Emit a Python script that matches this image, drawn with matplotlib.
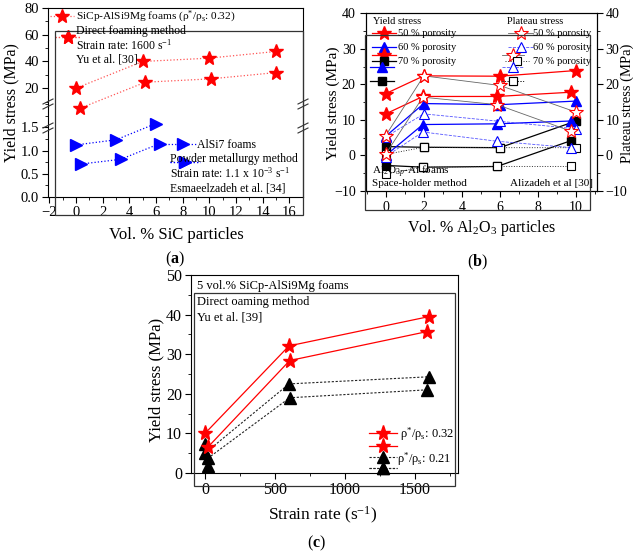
import matplotlib
matplotlib.use('Agg')
import matplotlib.pyplot as plt
from matplotlib.lines import Line2D
from matplotlib.patches import Rectangle
from matplotlib.ticker import MultipleLocator, FormatStrFormatter

plt.rcParams['font.family'] = ['Liberation Serif', 'DejaVu Serif']
plt.rcParams['mathtext.fontset'] = 'custom'
plt.rcParams['mathtext.rm'] = 'Liberation Serif'
plt.rcParams['mathtext.it'] = 'Liberation Serif:italic'
plt.rcParams['mathtext.bf'] = 'Liberation Serif:bold'

# ---------------- data: panel (a) ----------------
a_sic_x_A = [0, 5, 10, 15]
a_sic_y_A = [20.0, 40.0, 42.5, 47.5]
a_sic_x_B = [0.3, 5.2, 10.1, 15.0]
a_sic_y_B = [5.0, 24.5, 27.0, 31.7]
a_alsi_x_A = [0, 3, 6]
a_alsi_y_A = [1.12, 1.23, 1.58]
a_alsi_x_B = [0.4, 3.35, 6.3]
a_alsi_y_B = [0.71, 0.81, 1.15]

# ---------------- data: panel (b) ----------------
b_x_A = [0, 2, 6, 10]
b_x_B = [0, 1.95, 5.85, 9.75]
ys50_A = [17.4, 22.4, 22.3, 23.9]
ys50_B = [11.7, 16.6, 16.6, 17.8]
ps50_A = [5.6, 22.4, 19.7, 12.2]
ps50_B = [0.4, 16.4, 14.3, 6.8]
ys60_A = [5.4, 14.6, 14.3, 15.3]
ys60_B = [0.0, 8.7, 8.9, 9.7]
ps60_A = [5.2, 11.7, 9.6, 7.5]
ps60_B = [-0.3, 6.6, 4.0, 2.2]
ys70_A = [2.5, 2.3, 2.2, 9.7]
ys70_B = [-2.8, -3.3, -3.1, 4.2]
ps70_A = [0.3, 2.3, 2.2, 2.2]
ps70_B = [-5.2, -3.3, -3.1, -3.1]

# ---------------- data: panel (c) ----------------
c_x_A = [0, 600, 1600]
c_x_B = [20, 605, 1585]
c_star_A = [10.0, 32.1, 39.5]
c_star_B = [6.5, 28.4, 35.7]
c_tri_A = [5.0, 22.5, 24.3]
c_tri_B = [3.7, 19.0, 21.0]
c_tri_extra_x = [0, 20]
c_tri_extra_y = [7.3, 1.8]

W, H = 633, 558
fig = plt.figure(figsize=(6.33, 5.58), dpi=100)


def fx(x):
    return x / W


def fy(y):
    return 1 - y / H


def rect(x0, y0, x1, y1):
    return [fx(x0), fy(y1), (x1 - x0) / W, (y1 - y0) / H]


def handle(ax, x0, x1, y, fs=8, **kw):
    h = Line2D([], [], **kw)
    L = ax.legend([h], [''], loc='center left', bbox_to_anchor=(fx(x0), fy(y)),
                  bbox_transform=fig.transFigure, frameon=False, borderpad=0,
                  borderaxespad=0, handlelength=(x1 - x0) / (fs * 100 / 72),
                  handletextpad=0, fontsize=fs, numpoints=1)
    ax.add_artist(L)


def txt(x, y, s, fs=8.5, ha='left', **kw):
    fig.text(fx(x), fy(y), s, fontsize=fs, ha=ha, va='center', **kw)


def frame(x0, y0, x1, y1, lw=0.9):
    fig.add_artist(Rectangle((fx(x0), fy(y1)), (x1 - x0) / W, (y1 - y0) / H,
                             transform=fig.transFigure, fill=False, lw=lw,
                             ec='#333333'))


def brk(x, y):
    for dy in (-2.5, 2.5):
        fig.add_artist(Line2D([fx(x - 5), fx(x + 5)], [fy(y + dy + 2.5), fy(y + dy - 2.5)],
                              transform=fig.transFigure, lw=0.8, color='#333333'))


TFS = 10.5
RED = '#ff0000'
BLUE = '#0000ff'

# ================= panel (a) =================
axU = fig.add_axes(rect(48, 8, 303, 104))
axL = fig.add_axes(rect(48, 104, 303, 197))
for ax in (axU, axL):
    ax.set_xlim(-2.1, 17.03)
    ax.tick_params(direction='out', labelsize=TFS, length=4, width=0.8, right=False, top=False, pad=2.5)
    ax.tick_params(which='minor', direction='out', length=2, width=0.6)
    ax.patch.set_alpha(0)
axU.set_ylim(8.2, 80)
axU.yaxis.set_major_locator(MultipleLocator(20))
axU.yaxis.set_minor_locator(MultipleLocator(10))
axU.spines['bottom'].set_visible(False)
axU.tick_params(which='both', bottom=False, labelbottom=False)
axL.set_ylim(0, 2.0)
axL.set_yticks([0, 0.5, 1.0, 1.5])
axL.yaxis.set_minor_locator(MultipleLocator(0.25))
axL.yaxis.set_major_formatter(FormatStrFormatter('%.1f'))
axL.xaxis.set_major_locator(MultipleLocator(2))
axL.xaxis.set_minor_locator(MultipleLocator(1))
axL.spines['top'].set_visible(False)

axU.plot(a_sic_x_A, a_sic_y_A, ls=':', color='#ff5555', lw=0.9, marker='*', ms=10,
         mfc=RED, mec=RED, clip_on=False)
axU.plot(a_sic_x_B, a_sic_y_B, ls=':', color='#ff5555', lw=0.9, marker='*', ms=10,
         mfc=RED, mec=RED, clip_on=False)
axL.plot(a_alsi_x_A, a_alsi_y_A, ls=':', color=BLUE, lw=0.9, marker='>', ms=8,
         mfc=BLUE, mec=BLUE, clip_on=False)
axL.plot(a_alsi_x_B, a_alsi_y_B, ls=':', color=BLUE, lw=0.9, marker='>', ms=8,
         mfc=BLUE, mec=BLUE, clip_on=False)

frame(55, 31, 303, 215)
for yy in (104, 128):
    brk(48, yy)
    brk(303, yy)

handle(axU, 50, 74, 17, ls=':', color='#ff5555', lw=0.9, marker='*', ms=10, mfc=RED, mec=RED)
handle(axU, 55, 81, 38, ls=':', color='#ff5555', lw=0.9, marker='*', ms=10, mfc=RED, mec=RED)
txt(76, 17, 'SiCp-AlSi9Mg foams (ρ$^{*}$/ρ$_{\\mathrm{s}}$: 0.32)', fs=8.2)
txt(76, 31, 'Direct foaming method')
txt(76, 45, 'Strain rate: 1600 s$^{-1}$')
txt(76, 60, 'Yu et al. [30]')

handle(axL, 168, 197, 145, ls=':', color=BLUE, lw=0.9, marker='>', ms=8, mfc=BLUE, mec=BLUE)
handle(axL, 170, 200, 163, ls=':', color=BLUE, lw=0.9, marker='>', ms=8, mfc=BLUE, mec=BLUE)
txt(197, 145, 'AlSi7 foams')
txt(170, 159, 'Powder metallurgy method')
txt(170, 173, 'Strain rate: 1.1 x 10$^{-3}$ s$^{-1}$')
txt(170, 189, 'Esmaeelzadeh et al. [34]')

fig.text(fx(11), fy(103), 'Yield stress (MPa)', rotation=90, fontsize=11.5, ha='center', va='center')
txt(176, 235, 'Vol. % SiC particles', fs=12, ha='center')
txt(175, 259, '($\\mathbf{a}$)', fs=11.5, ha='center')

# ================= panel (b) =================
BFS = 10
axB = fig.add_axes(rect(366, 13.3, 597, 191))
axB.set_xlim(-1.035, 11.1)
axB.set_ylim(-10, 40)
axB.xaxis.set_major_locator(MultipleLocator(2))
axB.xaxis.set_minor_locator(MultipleLocator(1))
axB.yaxis.set_major_locator(MultipleLocator(10))
axB.yaxis.set_minor_locator(MultipleLocator(5))
axB.tick_params(direction='out', labelsize=BFS, length=4, width=0.8, top=False, right=False)
axB.tick_params(which='minor', direction='out', length=2, width=0.6)
axB2 = axB.twinx()
axB2.set_ylim(-10, 40)
axB2.yaxis.set_major_locator(MultipleLocator(10))
axB2.yaxis.set_minor_locator(MultipleLocator(5))
axB2.tick_params(direction='out', labelsize=BFS, length=4, width=0.8, pad=2)
axB2.tick_params(which='minor', direction='out', length=2, width=0.6)

sty = {
    'ys50': dict(ls='-', color=RED, lw=0.9, marker='*', ms=10, mfc=RED, mec=RED),
    'ys60': dict(ls='-', color=BLUE, lw=0.9, marker='^', ms=7, mfc=BLUE, mec=BLUE),
    'ys70': dict(ls='-', color='black', lw=0.9, marker='s', ms=6, mfc='black', mec='black'),
    'ps50': dict(ls='-', color='#666666', lw=0.6, marker='*', ms=10, mfc='white', mec=RED, mew=0.8),
    'ps60': dict(ls='--', color='#5555ff', lw=0.6, marker='^', ms=7, mfc='white', mec=BLUE, mew=0.8),
    'ps70': dict(ls=':', color='#333333', lw=0.7, marker='s', ms=6, mfc='white', mec='black', mew=0.8),
}
axB.plot(b_x_A, ys70_A, **sty['ys70'])
axB.plot(b_x_B, ys70_B, **sty['ys70'])
axB.plot(b_x_A, ys60_A, **sty['ys60'])
axB.plot(b_x_B, ys60_B, **sty['ys60'])
axB.plot(b_x_A, ys50_A, **sty['ys50'])
axB.plot(b_x_B, ys50_B, **sty['ys50'])
axB2.plot(b_x_A, ps70_A, **sty['ps70'])
axB2.plot(b_x_B, ps70_B, **sty['ps70'])
axB2.plot(b_x_A, ps60_A, **sty['ps60'])
axB2.plot(b_x_B, ps60_B, **sty['ps60'])
axB2.plot(b_x_A, ps50_A, **sty['ps50'])
axB2.plot(b_x_B, ps50_B, **sty['ps50'])

frame(365, 35, 590, 210)

LB = 7.5
txt(373, 22, 'Yield stress', fs=LB)
txt(507, 22, 'Plateau stress', fs=LB)
handle(axB2, 372, 396, 34, fs=LB, **sty['ys50'])
handle(axB2, 372, 396, 48, fs=LB, **sty['ys60'])
handle(axB2, 372, 396, 56, fs=LB, **sty['ys50'])
handle(axB2, 372, 396, 62, fs=LB, **sty['ys70'])
handle(axB2, 370, 394, 68, fs=LB, **sty['ys60'])
handle(axB2, 370, 394, 82, fs=LB, **sty['ys70'])
for yy, lab in ((34, '50 % porosity'), (48, '60 % porosity'), (62, '70 % porosity')):
    txt(398, yy, lab, fs=LB)
    txt(533, yy, lab, fs=LB)
handle(axB2, 508, 533, 34, fs=LB, **sty['ps50'])
handle(axB2, 508, 533, 48, fs=LB, **sty['ps60'])
handle(axB2, 502, 524, 56, fs=LB, **sty['ps50'])
handle(axB2, 505, 529, 62, fs=LB, **sty['ps70'])
handle(axB2, 502, 524, 68, fs=LB, **sty['ps60'])
handle(axB2, 502, 524, 82, fs=LB, **sty['ps70'])

txt(372, 172, 'Al$_{2}$O$_{3p}$-Al foams', fs=8)
txt(372, 184, 'Space-holder method', fs=8)
txt(593, 184, 'Alizadeh et al [30]', fs=8, ha='right')

fig.text(fx(333), fy(103), 'Yield stress (MPa)', rotation=90, fontsize=11, ha='center', va='center')
fig.text(fx(627), fy(103), 'Plateau stress (MPa)', rotation=90, fontsize=10.5, ha='center', va='center')
txt(481, 228, 'Vol. % Al$_{2}$O$_{3}$ particles', fs=11.5, ha='center')
txt(477, 262, '($\\mathbf{b}$)', fs=11.5, ha='center')

# ================= panel (c) =================
axC = fig.add_axes(rect(191, 275, 458, 473))
axC.set_xlim(-100, 1807)
axC.set_ylim(0, 50)
axC.xaxis.set_major_locator(MultipleLocator(500))
axC.xaxis.set_minor_locator(MultipleLocator(250))
axC.yaxis.set_major_locator(MultipleLocator(10))
axC.yaxis.set_minor_locator(MultipleLocator(5))
axC.tick_params(direction='out', labelsize=11.5, length=4, width=0.8, top=False, right=False, pad=2.5)
axC.tick_params(which='minor', direction='out', length=2, width=0.6)

sC = dict(ls='-', color=RED, lw=0.9, marker='*', ms=11, mfc=RED, mec=RED)
tC = dict(ls=(0, (2, 1.5)), color='#222222', lw=0.8, marker='^', ms=8, mfc='black', mec='black')
axC.plot(c_x_A, c_tri_A, clip_on=False, **tC)
axC.plot(c_x_B, c_tri_B, clip_on=False, **tC)
axC.plot(c_tri_extra_x, c_tri_extra_y, ls='none', marker='^', ms=8, mfc='black', mec='black', clip_on=False)
axC.plot(c_x_A, c_star_A, clip_on=False, **sC)
axC.plot(c_x_B, c_star_B, clip_on=False, **sC)

frame(194, 293, 455, 486)

handle(axC, 369, 397, 434, fs=9, **sC)
handle(axC, 369, 397, 447, fs=9, **sC)
handle(axC, 369, 397, 458, fs=9, **tC)
handle(axC, 369, 397, 469, fs=9, **tC)
txt(400, 434, 'ρ$^{*}$/ρ$_{\\mathrm{s}}$: 0.32', fs=9)
txt(397, 459, 'ρ$^{*}$/ρ$_{\\mathrm{s}}$: 0.21', fs=9)

txt(197, 286, '5 vol.% SiCp-AlSi9Mg foams', fs=9)
txt(197, 302, 'Direct oaming method', fs=9)
txt(197, 317, 'Yu et al. [39]', fs=9)

fig.text(fx(156), fy(380), 'Yield stress (MPa)', rotation=90, fontsize=12, ha='center', va='center')
txt(323, 515, 'Strain rate (s$^{-1}$)', fs=12.5, ha='center')
txt(317, 543, '($\\mathbf{c}$)', fs=11.5, ha='center')

fig.savefig('out.png', dpi=100)
